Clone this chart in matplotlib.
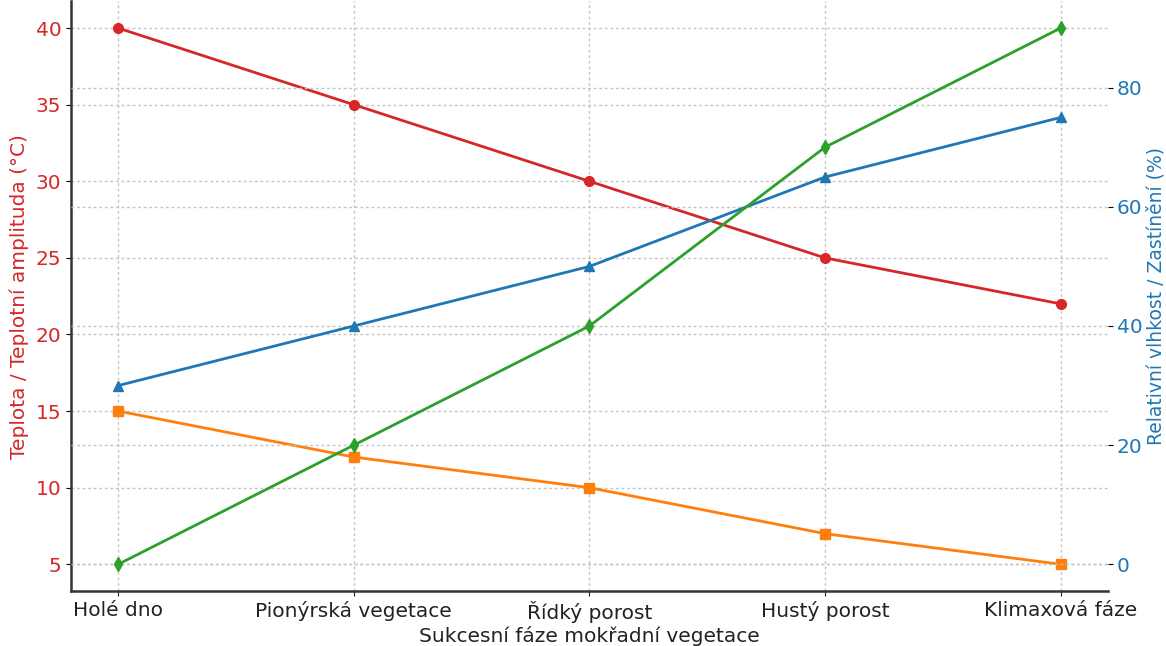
import matplotlib.pyplot as plt

faze = ["Holé dno", "Pionýrská vegetace", "Řídký porost", "Hustý porost", "Klimaxová fáze"]
teplota = [40, 35, 30, 25, 22]
amplituda = [15, 12, 10, 7, 5]
vlhkost = [30, 40, 50, 65, 75]
zastineni = [0, 20, 40, 70, 90]

c_red = "#d62728"
c_orange = "#ff7f0e"
c_blue = "#1f77b4"
c_green = "#2ca02c"

fig = plt.figure(figsize=(11.66, 6.46), dpi=100)
ax1 = fig.add_axes([0.061, 0.085, 0.889, 0.913])
x = range(len(faze))
fs = 14.5

ax1.plot(x, teplota, color=c_red, marker="o", lw=2, ms=7)
ax1.plot(x, amplituda, color=c_orange, marker="s", lw=2, ms=7)
ax1.set_ylabel("Teplota / Teplotní amplituda (°C)", color=c_red, fontsize=fs, labelpad=5)
ax1.tick_params(axis="y", labelcolor=c_red, labelsize=fs)
ax1.tick_params(axis="x", labelsize=fs, colors="#222222")
ax1.set_xticks(list(x))
ax1.set_xticklabels(faze)
ax1.set_xlabel("Sukcesní fáze mokřadní vegetace", fontsize=fs, labelpad=2, color="#222222")
ax1.grid(True, linestyle=(0, (2, 2)), color="#c4c4c4", lw=1)

ax2 = ax1.twinx()
ax2.plot(x, vlhkost, color=c_blue, marker="^", lw=2, ms=7)
ax2.plot(x, zastineni, color=c_green, marker="d", lw=2, ms=7)
ax2.set_ylabel("Relativní vlhkost / Zastínění (%)", color=c_blue, fontsize=13.5, labelpad=3)
ax2.tick_params(axis="y", labelcolor=c_blue, labelsize=fs, pad=3)
ax2.set_yticks([0, 20, 40, 60, 80])
ax2.grid(True, axis="y", linestyle=(0, (2, 2)), color="#c4c4c4", lw=1)

for a in (ax1, ax2):
    a.spines["top"].set_visible(False)
    a.spines["right"].set_visible(False)
ax1.spines["left"].set_linewidth(1.8)
ax1.spines["left"].set_color("#333333")
ax1.spines["bottom"].set_linewidth(1.8)
ax1.spines["bottom"].set_color("#333333")
ax2.spines["left"].set_visible(False)
ax2.spines["bottom"].set_visible(False)

fig.savefig("out.png", dpi=100)
